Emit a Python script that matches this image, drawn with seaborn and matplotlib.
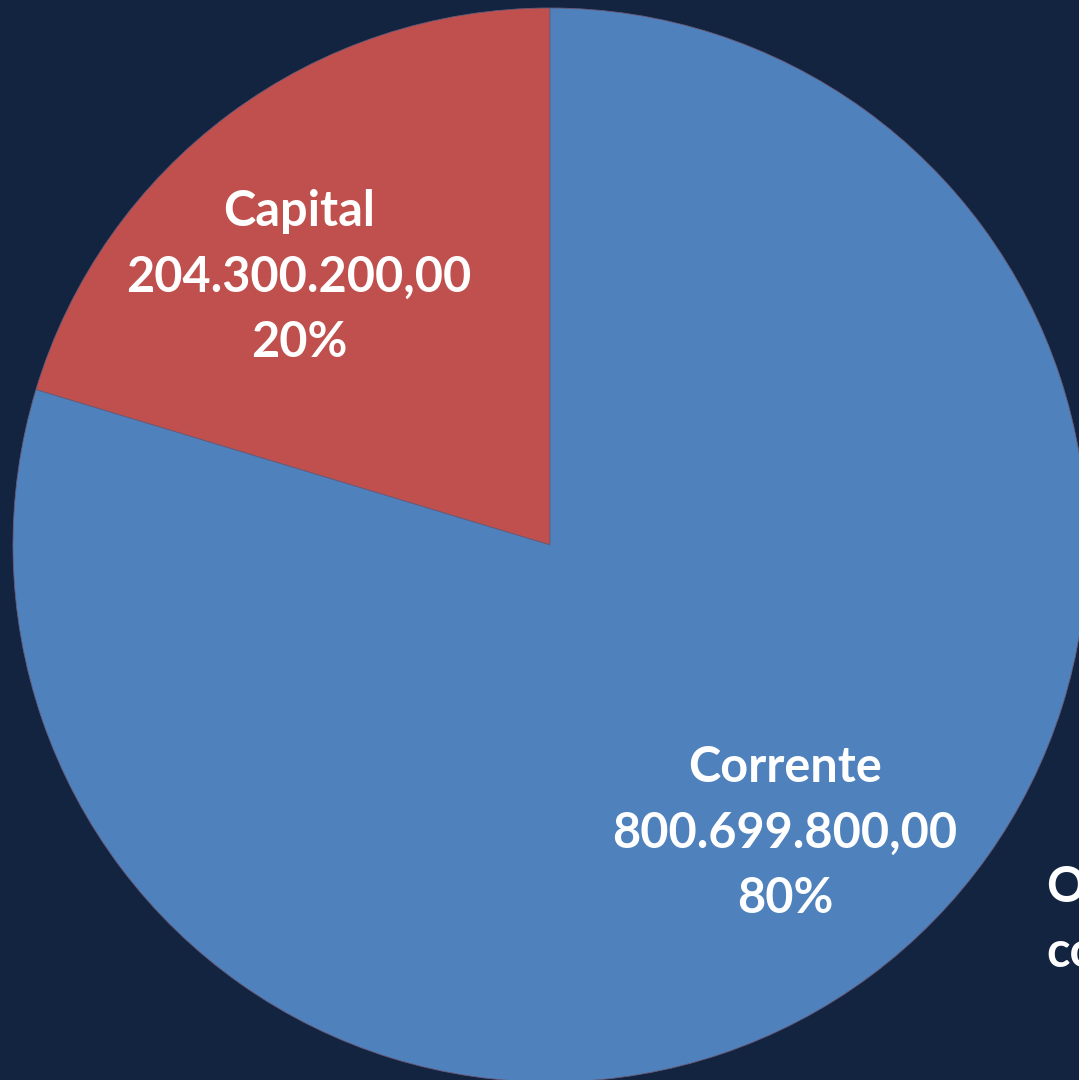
import matplotlib
matplotlib.use("Agg")
import matplotlib.pyplot as plt
import seaborn as sns

# Valores do orçamento por categoria econômica
categorias = ["Capital", "Corrente"]
valores = [204300200.00, 800699800.00]
cores = ["#C0504D", "#4F81BD"]
fundo = "#12243F"

sns.set_theme(style="white")
plt.rcParams["font.family"] = ["Lato", "DejaVu Sans"]


def br(v):
    s = f"{v:,.2f}"
    return s.replace(",", "X").replace(".", ",").replace("X", ".")


total = sum(valores)
rotulos = [f"{c}\n{br(v)}\n{v / total * 100:.0f}%" for c, v in zip(categorias, valores)]
# posição dos rótulos (em pixels, eixo y para cima)
pos_rotulos = [(299, 803), (785, 247)]

fig = plt.figure(figsize=(10.79, 10.80), dpi=100, facecolor=fundo)
ax = fig.add_axes([0, 0, 1, 1])
ax.set_facecolor(fundo)

wedges, _ = ax.pie(valores, colors=cores, startangle=90, counterclock=True,
                   center=(550, 535), radius=537, frame=True,
                   wedgeprops=dict(edgecolor="#6a5a78", linewidth=0.6))

for (x, y), txt in zip(pos_rotulos, rotulos):
    ax.text(x, y, txt, ha="center", va="center", color="white",
            fontsize=35, fontweight="bold", linespacing=1.55)

# texto cortado na borda direita
ax.text(1046, 160, "Orçamento\nconsolidado", ha="left", va="center", color="white",
        fontsize=35, fontweight="bold", linespacing=1.55)

ax.set_xlim(0, 1079)
ax.set_ylim(0, 1080)
ax.set_aspect("equal")
ax.axis("off")

fig.savefig("out.png", dpi=100, facecolor=fundo)
